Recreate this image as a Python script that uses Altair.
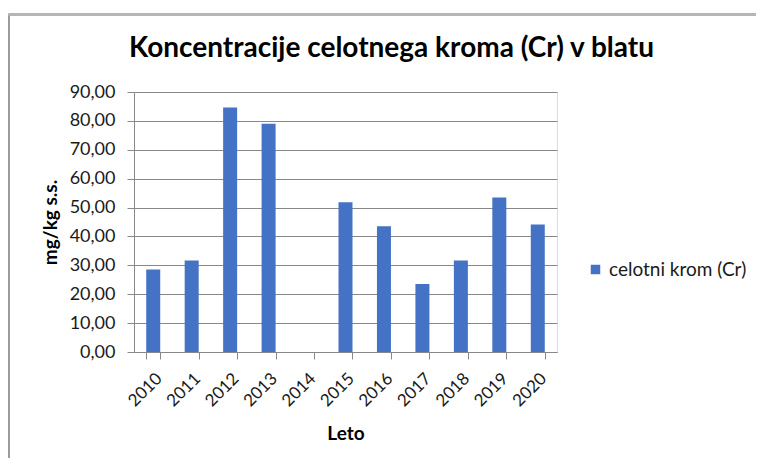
import altair as alt
import pandas as pd

years = ["2010", "2011", "2012", "2013", "2014", "2015", "2016", "2017", "2018", "2019", "2020"]
values = [28.6, 31.7, 84.6, 79.0, None, 51.8, 43.5, 23.5, 31.7, 53.5, 44.1]
series = "celotni krom (Cr)"
y_ticks = [0, 10, 20, 30, 40, 50, 60, 70, 80, 90]

df = pd.DataFrame({"Leto": years, "val": values, "serija": [series] * len(years)})

FONT = "Lato"
BAR = "#4472C4"
GRID = "#888888"
TXT = "#1a1a1a"

W, H = 423, 260

bars = alt.Chart(df).mark_bar(color=BAR).encode(
    x=alt.X(
        "Leto:N",
        scale=alt.Scale(domain=years, paddingInner=0.636, paddingOuter=0.318),
        axis=alt.Axis(
            title="Leto",
            labelAngle=-45,
            labelFontSize=17,
            labelFont=FONT,
            labelColor=TXT,
            labelPadding=11,
            tickBand="extent",
            tickSize=7,
            tickColor=GRID,
            domainColor=GRID,
            titleFont=FONT,
            titleFontSize=19,
            titleFontWeight="bold",
            titleColor="#000000",
            titlePadding=15,
            grid=False,
        ),
    ),
    y=alt.Y(
        "val:Q",
        scale=alt.Scale(domain=[0, 90], nice=False),
        axis=alt.Axis(
            title="mg/kg s.s.",
            values=y_ticks,
            labelExpr="replace(format(datum.value, '.2f'), '.', ',')",
            labelFontSize=18,
            labelFont=FONT,
            labelColor=TXT,
            labelPadding=12,
            tickSize=7,
            tickColor=GRID,
            domainColor=GRID,
            gridColor=GRID,
            gridWidth=1,
            titleFont=FONT,
            titleFontSize=19,
            titleFontWeight="bold",
            titleColor="#000000",
            titlePadding=9,
        ),
    ),
    color=alt.Color(
        "serija:N",
        scale=alt.Scale(range=[BAR]),
        legend=alt.Legend(
            title=None,
            orient="none",
            legendX=452,
            legendY=168,
            symbolType="square",
            symbolSize=90,
            symbolStrokeWidth=0,
            labelFont=FONT,
            labelFontSize=19,
            labelColor=TXT,
            labelOffset=4,
        ),
    ),
)

frame_left = alt.Chart(df).mark_rule(color="#9a9a9a", strokeWidth=1.5).encode(
    x=alt.value(-125.5), y=alt.value(-77.5), y2=alt.value(370)
)
frame_top = alt.Chart(df).mark_rule(color="#b4b4b4", strokeWidth=1.5).encode(
    x=alt.value(-125.5), x2=alt.value(640), y=alt.value(-77.5)
)

chart = (
    alt.layer(frame_left, frame_top, bars)
    .properties(
        width=W,
        height=H,
        padding={"left": 126, "top": 84, "right": 199, "bottom": 106},
        autosize=alt.AutoSizeParams(type="none"),
        title=alt.TitleParams(
            "Koncentracije celotnega kroma (Cr) v blatu",
            font=FONT,
            fontSize=28,
            fontWeight="bold",
            color="#000000",
            anchor="middle",
            frame="group",
            baseline="alphabetic",
            dx=46,
            offset=-71,
        ),
    )
    .configure_view(stroke=None)
    .configure(background="white")
)

chart.save("out.html", embed_options={"renderer": "svg", "actions": False})
